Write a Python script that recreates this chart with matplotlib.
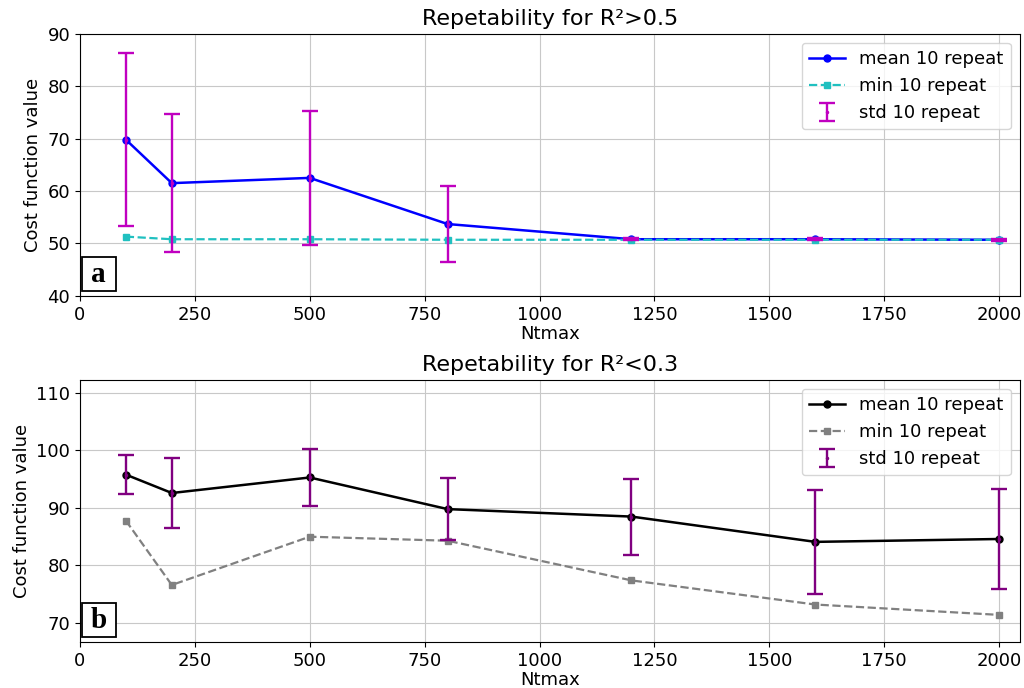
import matplotlib.pyplot as plt
from matplotlib.patches import Rectangle

ntmax = [100, 200, 500, 800, 1200, 1600, 2000]

# panel a: R^2 > 0.5
mean_a = [69.8, 61.5, 62.5, 53.7, 50.8, 50.8, 50.7]
std_a = [16.5, 13.1, 12.8, 7.3, 0.2, 0.2, 0.2]
min_a = [51.3, 50.8, 50.8, 50.7, 50.7, 50.7, 50.7]

# panel b: R^2 < 0.3
mean_b = [95.8, 92.6, 95.3, 89.8, 88.5, 84.1, 84.6]
std_b = [3.4, 6.1, 5.0, 5.4, 6.6, 9.1, 8.7]
min_b = [87.8, 76.6, 85.0, 84.3, 77.4, 73.2, 71.4]


def plot_panel(ax, mean, std, mins, c_mean, c_min, c_err, title, ylim, letter):
    ax.plot(ntmax, mean, color=c_mean, marker="o", markersize=5,
            linewidth=1.8, label="mean 10 repeat")
    ax.plot(ntmax, mins, color=c_min, marker="s", markersize=5,
            linestyle="--", linewidth=1.6, label="min 10 repeat")
    ax.errorbar(ntmax, mean, yerr=std, fmt=".", markersize=3, color=c_err,
                ecolor=c_err, elinewidth=1.7, capsize=5.5, capthick=1.7,
                label="std 10 repeat")
    ax.set_title(title, fontsize=16)
    ax.set_xlabel("Ntmax", fontsize=13, labelpad=1)
    ax.set_ylabel("Cost function value", fontsize=13)
    ax.set_xlim(0, 2045)
    ax.set_ylim(*ylim)
    ax.tick_params(labelsize=13)
    ax.grid(True, color="#c8c8c8")
    ax.legend(loc="upper right", fontsize=13)
    # boxed panel letter in the lower-left corner
    ax.add_patch(Rectangle((0.002, 0.017), 0.036, 0.13, transform=ax.transAxes,
                           facecolor="white", edgecolor="black",
                           linewidth=1.3, zorder=5))
    ax.text(0.020, 0.082, letter, transform=ax.transAxes, fontsize=21,
            fontweight="bold", family="Liberation Serif", ha="center",
            va="center", zorder=6)


fig, (ax1, ax2) = plt.subplots(2, 1, figsize=(10.24, 6.88), dpi=100)
fig.subplots_adjust(left=0.078, right=0.996, top=0.951, bottom=0.067,
                    hspace=0.32)

plot_panel(ax1, mean_a, std_a, min_a, "blue", "#20c0c0", "#c000c0",
           "Repetability for R²>0.5", (40, 90), "a")
plot_panel(ax2, mean_b, std_b, min_b, "black", "gray", "purple",
           "Repetability for R²<0.3", (66.7, 112.3), "b")

fig.savefig("out.png")
